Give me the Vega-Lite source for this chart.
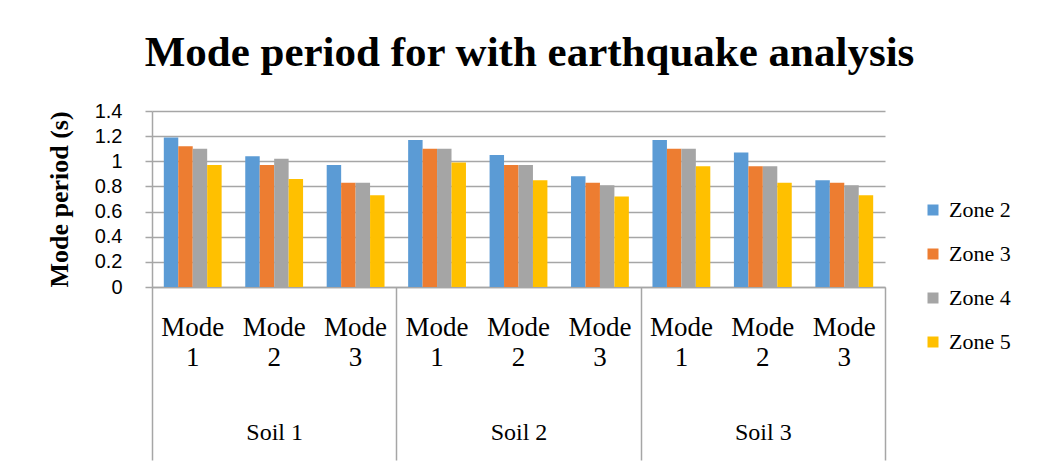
{
  "$schema": "https://vega.github.io/schema/vega-lite/v6.json",
  "autosize": {"type": "none"},
  "width": 733,
  "height": 176,
  "padding": {"left": 152, "top": 111, "right": 153, "bottom": 181},
  "background": "white",
  "title": {
    "text": "Mode period for with earthquake analysis",
    "font": "Liberation Serif",
    "fontSize": 43,
    "fontWeight": "bold",
    "color": "black",
    "anchor": "middle",
    "baseline": "alphabetic",
    "dx": 11,
    "offset": -8
  },
  "config": {
    "view": {"stroke": null},
    "axis": {"labelColor": "black", "titleColor": "black"}
  },
  "data": {
    "values": [
      {"Soil": "Soil 1", "Mode": "Mode 1", "Slot": "Soil 1 Mode 1", "Zone": "Zone 2", "Period": 1.19},
      {"Soil": "Soil 1", "Mode": "Mode 1", "Slot": "Soil 1 Mode 1", "Zone": "Zone 3", "Period": 1.12},
      {"Soil": "Soil 1", "Mode": "Mode 1", "Slot": "Soil 1 Mode 1", "Zone": "Zone 4", "Period": 1.10},
      {"Soil": "Soil 1", "Mode": "Mode 1", "Slot": "Soil 1 Mode 1", "Zone": "Zone 5", "Period": 0.97},
      {"Soil": "Soil 1", "Mode": "Mode 2", "Slot": "Soil 1 Mode 2", "Zone": "Zone 2", "Period": 1.04},
      {"Soil": "Soil 1", "Mode": "Mode 2", "Slot": "Soil 1 Mode 2", "Zone": "Zone 3", "Period": 0.97},
      {"Soil": "Soil 1", "Mode": "Mode 2", "Slot": "Soil 1 Mode 2", "Zone": "Zone 4", "Period": 1.02},
      {"Soil": "Soil 1", "Mode": "Mode 2", "Slot": "Soil 1 Mode 2", "Zone": "Zone 5", "Period": 0.86},
      {"Soil": "Soil 1", "Mode": "Mode 3", "Slot": "Soil 1 Mode 3", "Zone": "Zone 2", "Period": 0.97},
      {"Soil": "Soil 1", "Mode": "Mode 3", "Slot": "Soil 1 Mode 3", "Zone": "Zone 3", "Period": 0.83},
      {"Soil": "Soil 1", "Mode": "Mode 3", "Slot": "Soil 1 Mode 3", "Zone": "Zone 4", "Period": 0.83},
      {"Soil": "Soil 1", "Mode": "Mode 3", "Slot": "Soil 1 Mode 3", "Zone": "Zone 5", "Period": 0.73},
      {"Soil": "Soil 2", "Mode": "Mode 1", "Slot": "Soil 2 Mode 1", "Zone": "Zone 2", "Period": 1.17},
      {"Soil": "Soil 2", "Mode": "Mode 1", "Slot": "Soil 2 Mode 1", "Zone": "Zone 3", "Period": 1.10},
      {"Soil": "Soil 2", "Mode": "Mode 1", "Slot": "Soil 2 Mode 1", "Zone": "Zone 4", "Period": 1.10},
      {"Soil": "Soil 2", "Mode": "Mode 1", "Slot": "Soil 2 Mode 1", "Zone": "Zone 5", "Period": 0.99},
      {"Soil": "Soil 2", "Mode": "Mode 2", "Slot": "Soil 2 Mode 2", "Zone": "Zone 2", "Period": 1.05},
      {"Soil": "Soil 2", "Mode": "Mode 2", "Slot": "Soil 2 Mode 2", "Zone": "Zone 3", "Period": 0.97},
      {"Soil": "Soil 2", "Mode": "Mode 2", "Slot": "Soil 2 Mode 2", "Zone": "Zone 4", "Period": 0.97},
      {"Soil": "Soil 2", "Mode": "Mode 2", "Slot": "Soil 2 Mode 2", "Zone": "Zone 5", "Period": 0.85},
      {"Soil": "Soil 2", "Mode": "Mode 3", "Slot": "Soil 2 Mode 3", "Zone": "Zone 2", "Period": 0.88},
      {"Soil": "Soil 2", "Mode": "Mode 3", "Slot": "Soil 2 Mode 3", "Zone": "Zone 3", "Period": 0.83},
      {"Soil": "Soil 2", "Mode": "Mode 3", "Slot": "Soil 2 Mode 3", "Zone": "Zone 4", "Period": 0.81},
      {"Soil": "Soil 2", "Mode": "Mode 3", "Slot": "Soil 2 Mode 3", "Zone": "Zone 5", "Period": 0.72},
      {"Soil": "Soil 3", "Mode": "Mode 1", "Slot": "Soil 3 Mode 1", "Zone": "Zone 2", "Period": 1.17},
      {"Soil": "Soil 3", "Mode": "Mode 1", "Slot": "Soil 3 Mode 1", "Zone": "Zone 3", "Period": 1.10},
      {"Soil": "Soil 3", "Mode": "Mode 1", "Slot": "Soil 3 Mode 1", "Zone": "Zone 4", "Period": 1.10},
      {"Soil": "Soil 3", "Mode": "Mode 1", "Slot": "Soil 3 Mode 1", "Zone": "Zone 5", "Period": 0.96},
      {"Soil": "Soil 3", "Mode": "Mode 2", "Slot": "Soil 3 Mode 2", "Zone": "Zone 2", "Period": 1.07},
      {"Soil": "Soil 3", "Mode": "Mode 2", "Slot": "Soil 3 Mode 2", "Zone": "Zone 3", "Period": 0.96},
      {"Soil": "Soil 3", "Mode": "Mode 2", "Slot": "Soil 3 Mode 2", "Zone": "Zone 4", "Period": 0.96},
      {"Soil": "Soil 3", "Mode": "Mode 2", "Slot": "Soil 3 Mode 2", "Zone": "Zone 5", "Period": 0.83},
      {"Soil": "Soil 3", "Mode": "Mode 3", "Slot": "Soil 3 Mode 3", "Zone": "Zone 2", "Period": 0.85},
      {"Soil": "Soil 3", "Mode": "Mode 3", "Slot": "Soil 3 Mode 3", "Zone": "Zone 3", "Period": 0.83},
      {"Soil": "Soil 3", "Mode": "Mode 3", "Slot": "Soil 3 Mode 3", "Zone": "Zone 4", "Period": 0.81},
      {"Soil": "Soil 3", "Mode": "Mode 3", "Slot": "Soil 3 Mode 3", "Zone": "Zone 5", "Period": 0.73}
    ]
  },
  "encoding": {
    "y": {
      "field": "Period",
      "type": "quantitative",
      "stack": null,
      "scale": {"domain": [0, 1.4], "nice": false},
      "axis": {
        "title": "Mode period (s)",
        "titleFont": "Liberation Serif",
        "titleFontSize": 26,
        "titleFontWeight": "bold",
        "titlePadding": 22,
        "values": [0, 0.2, 0.4, 0.6, 0.8, 1, 1.2, 1.4],
        "format": "~g",
        "labelOverlap": false,
        "labelFont": "Liberation Sans",
        "labelFontSize": 20,
        "labelPadding": 23,
        "tickSize": 7,
        "tickColor": "#a6a6a6",
        "tickWidth": 1.5,
        "domainColor": "#a6a6a6",
        "domainWidth": 1.5,
        "gridColor": "#a6a6a6",
        "gridWidth": 1.5
      }
    }
  },
  "layer": [
    {
      "mark": {"type": "bar", "opacity": 0},
      "encoding": {
        "x": {
          "field": "Soil",
          "type": "nominal",
          "scale": {"paddingInner": 0, "paddingOuter": 0},
          "axis": {
            "orient": "bottom",
            "title": null,
            "domain": false,
            "grid": false,
            "ticks": true,
            "tickBand": "extent",
            "tickSize": 173,
            "tickColor": "#a6a6a6",
            "tickWidth": 1.5,
            "labelAngle": 0,
            "labelFont": "Liberation Serif",
            "labelFontSize": 24,
            "labelBaseline": "middle",
            "labelPadding": -28
          }
        }
      }
    },
    {
      "mark": {"type": "bar"},
      "encoding": {
        "x": {
          "field": "Slot",
          "type": "nominal",
          "scale": {"paddingInner": 0.29, "paddingOuter": 0.145},
          "axis": {
            "orient": "bottom",
            "title": null,
            "domain": true,
            "domainColor": "#a6a6a6",
            "domainWidth": 1.5,
            "ticks": false,
            "grid": false,
            "labelAngle": 0,
            "labelFont": "Liberation Serif",
            "labelFontSize": 27,
            "labelLineHeight": 30,
            "labelBaseline": "top",
            "labelPadding": 27,
            "labelExpr": "[split(datum.value, ' ')[2], split(datum.value, ' ')[3]]"
          }
        },
        "xOffset": {
          "field": "Zone",
          "type": "nominal",
          "scale": {"paddingInner": 0, "paddingOuter": 0}
        },
        "color": {
          "field": "Zone",
          "type": "nominal",
          "scale": {
            "domain": ["Zone 2", "Zone 3", "Zone 4", "Zone 5"],
            "range": ["#5B9BD5", "#ED7D31", "#A5A5A5", "#FFC000"]
          },
          "legend": {
            "title": null,
            "orient": "none",
            "legendX": 770,
            "legendY": 88,
            "symbolType": "square",
            "symbolSize": 121,
            "symbolStrokeWidth": 0,
            "labelFont": "Liberation Serif",
            "labelFontSize": 22,
            "labelColor": "black",
            "labelOffset": 5,
            "rowPadding": 22
          }
        }
      }
    }
  ],
  "resolve": {"scale": {"x": "independent"}, "axis": {"x": "independent"}}
}
